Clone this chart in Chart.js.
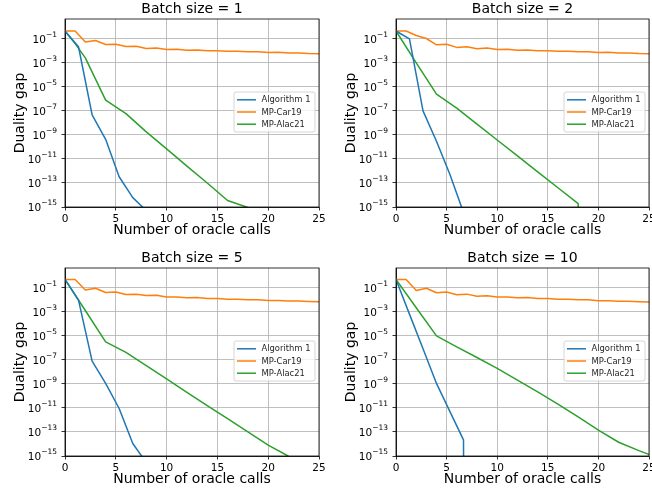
<!DOCTYPE html>
<html>
<head>
<meta charset="utf-8">
<script src="https://cdn.jsdelivr.net/npm/chart.js@4/dist/chart.umd.min.js"></script>
<style>
html, body { margin: 0; padding: 0; background: #fff; }
#wrap { position: relative; width: 652px; height: 494px; overflow: hidden; }
canvas { position: absolute; }
</style>
</head>
<body>
<div id="wrap">
  <canvas id="c1" width="326" height="247" style="left:0;top:0"></canvas>
  <canvas id="c2" width="326" height="247" style="left:326px;top:0"></canvas>
  <canvas id="c3" width="326" height="247" style="left:0;top:247px"></canvas>
  <canvas id="c4" width="326" height="247" style="left:326px;top:247px"></canvas>
</div>
<script>
// labels
var seriesNames = ['Algorithm 1', 'MP-Car19', 'MP-Alac21'];
var seriesColors = ['#1f77b4', '#ff7f0e', '#2ca02c'];
var batchTitles = ['Batch size = 1', 'Batch size = 2', 'Batch size = 5', 'Batch size = 10'];
var xLabel = 'Number of oracle calls';
var yLabel = 'Duality gap';
var xTicks = [0, 5, 10, 15, 20, 25];
var yTicks = [1e-1, 1e-3, 1e-5, 1e-7, 1e-9, 1e-11, 1e-13, 1e-15];
var yTickBase = '10';
var yTickExps = ['−1', '−3', '−5', '−7', '−9', '−11', '−13', '−15'];

// x positions
var algX = [0, 1.33, 2.67, 4, 5.33, 6.67, 8];
var carX = [0, 1, 2, 3, 4, 5, 6, 7, 8, 9, 10, 11, 12, 13, 14, 15, 16, 17, 18, 19, 20, 21, 22, 23, 24, 25];
var alacX = [0, 2, 4, 6, 8, 10, 12, 14, 16, 18, 20, 22, 24, 26];
var alacX1 = [0, 1, 2, 4, 6, 8, 10, 12, 14, 16, 18];

// batch size = 1
var alg1 = [0.45, 0.022, 4.6e-8, 4.3e-10, 3.3e-13, 6e-15, 5e-16];
var car1 = [0.45, 0.45, 0.055, 0.072, 0.034, 0.036, 0.023, 0.024, 0.016, 0.017, 0.013, 0.0135, 0.0115, 0.012, 0.0102, 0.0104, 0.0093, 0.0094, 0.0083, 0.0084, 0.0074, 0.0075, 0.0067, 0.0066, 0.006, 0.0057];
var alac1 = [0.45, 0.04, 2.6e-3, 8e-7, 6e-8, 1.8e-9, 7e-11, 2.5e-12, 1e-13, 3.5e-15, 9e-16];

// batch size = 2
var alg2 = [0.45, 0.1, 1e-7, 3e-10, 5e-13, 3.5e-16];
var car2 = [0.45, 0.45, 0.19, 0.107, 0.032, 0.036, 0.0195, 0.022, 0.015, 0.017, 0.013, 0.0135, 0.0115, 0.012, 0.0102, 0.0104, 0.0093, 0.0094, 0.0083, 0.0084, 0.0074, 0.0075, 0.0067, 0.0066, 0.006, 0.0057];
var alac2 = [0.45, 1e-3, 2.5e-6, 1.7e-7, 8e-9, 3.8e-10, 1.8e-11, 8.3e-13, 4e-14, 1.9e-15, 1e-300];

// batch size = 5
var alg5 = [0.5, 9.5e-3, 8e-8, 1.1e-9, 9e-12, 1.1e-14, 2.8e-16];
var car5 = [0.5, 0.5, 0.067, 0.093, 0.041, 0.046, 0.028, 0.03, 0.023, 0.024, 0.017, 0.0175, 0.015, 0.0155, 0.013, 0.013, 0.0115, 0.0115, 0.0102, 0.0102, 0.009, 0.009, 0.008, 0.008, 0.0073, 0.0069];
var alac5 = [0.5, 1.3e-3, 3.2e-6, 4.2e-7, 3.3e-8, 2.6e-9, 2e-10, 1.6e-11, 1.3e-12, 1e-13, 8e-15, 9.5e-16];

// batch size = 10
var alg10 = [0.5, 6.5e-4, 8.5e-7, 1.1e-9, 5e-12, 2.2e-14, 1e-300];
var car10 = [0.5, 0.5, 0.06, 0.093, 0.039, 0.046, 0.027, 0.03, 0.02, 0.022, 0.017, 0.0175, 0.015, 0.0155, 0.013, 0.013, 0.0115, 0.0115, 0.0101, 0.01, 0.0086, 0.0086, 0.0077, 0.0076, 0.0069, 0.0065];
var alac10 = [0.5, 2.2e-3, 1e-5, 1.2e-6, 1.6e-7, 2e-8, 2.1e-9, 2.2e-10, 2.1e-11, 1.8e-12, 1.45e-13, 1.4e-14, 2.8e-15, 6.3e-16];

var FONT = '"DejaVu Sans", sans-serif';

function pts(xs, ys) {
  return ys.map(function (y, i) { return { x: xs[i], y: y }; });
}

// spines, title, axis labels, y tick labels and the legend box
var decor = {
  id: 'decor',
  afterDraw: function (chart, args, o) {
    var ctx = chart.ctx, a = chart.chartArea, ys = chart.scales.y;
    var cx = (a.left + a.right) / 2, cy = (a.top + a.bottom) / 2;
    ctx.save();
    ctx.strokeStyle = '#000';
    ctx.lineWidth = 0.8;
    ctx.strokeRect(a.left, a.top, a.right - a.left, a.bottom - a.top);

    ctx.fillStyle = '#000';
    ctx.textAlign = 'center';
    ctx.textBaseline = 'middle';
    ctx.font = '14px ' + FONT;
    ctx.fillText(o.title, cx, a.top - 9.5);
    ctx.fillText(xLabel, cx, a.bottom + 23);
    ctx.save();
    ctx.translate(a.left - 45, cy);
    ctx.rotate(-Math.PI / 2);
    ctx.fillText(yLabel, 0, 0);
    ctx.restore();

    // y tick labels as 10 with a raised exponent
    yTicks.forEach(function (v, i) {
      var py = ys.getPixelForValue(v);
      var right = a.left - 8;
      ctx.font = '7.5px ' + FONT;
      var ew = ctx.measureText(yTickExps[i]).width;
      ctx.textAlign = 'left';
      ctx.fillText(yTickExps[i], right - ew, py - 3.5);
      ctx.font = '10.5px ' + FONT;
      ctx.textAlign = 'right';
      ctx.fillText(yTickBase, right - ew, py + 1);
    });

    // legend
    var bw = 81, bh = 40;
    var bx = a.right - 4 - bw, by = cy - 1 - bh / 2;
    ctx.beginPath();
    ctx.roundRect(bx, by, bw, bh, 2);
    ctx.fillStyle = 'rgba(255,255,255,0.8)';
    ctx.fill();
    ctx.strokeStyle = '#cccccc';
    ctx.lineWidth = 0.8;
    ctx.stroke();
    ctx.font = '8.4px ' + FONT;
    ctx.textAlign = 'left';
    chart.data.datasets.forEach(function (ds, i) {
      var ry = by + bh / 2 + (i - 1) * 12.2;
      ctx.strokeStyle = ds.borderColor;
      ctx.lineWidth = 1.5;
      ctx.beginPath();
      ctx.moveTo(bx + 3, ry);
      ctx.lineTo(bx + 22, ry);
      ctx.stroke();
      ctx.fillStyle = '#262626';
      ctx.fillText(ds.label, bx + 27.5, ry + 0.5);
    });
    ctx.restore();
  }
};

function makeChart(id, title, alg, car, ax, alac, box) {
  var W = 326, H = 247;
  var tickFont = { family: FONT, size: 10.5 };
  var grid = { color: '#b0b0b0', lineWidth: 0.8, tickColor: '#000', tickLength: 3.5, tickWidth: 0.8 };
  return new Chart(document.getElementById(id), {
    type: 'line',
    data: {
      datasets: [
        { label: seriesNames[0], data: pts(algX, alg), borderColor: seriesColors[0] },
        { label: seriesNames[1], data: pts(carX, car), borderColor: seriesColors[1] },
        { label: seriesNames[2], data: pts(ax, alac), borderColor: seriesColors[2] }
      ]
    },
    options: {
      responsive: false,
      animation: false,
      layout: { padding: { left: 0, top: box.t, right: W - box.r, bottom: 0 } },
      elements: {
        line: { borderWidth: 1.5, tension: 0, borderJoinStyle: 'round', fill: false },
        point: { radius: 0 }
      },
      plugins: { legend: { display: false }, tooltip: { enabled: false }, decor: { title: title } },
      scales: {
        x: {
          type: 'linear', min: 0, max: 25,
          afterBuildTicks: function (s) { s.ticks = xTicks.map(function (v) { return { value: v }; }); },
          afterFit: function (s) { s.height = H - box.b; s.paddingLeft = 0; s.paddingRight = 0; },
          ticks: { font: tickFont, color: '#000', padding: 2, maxRotation: 0, autoSkip: false },
          grid: grid,
          border: { color: '#000', width: 0.8 }
        },
        y: {
          type: 'logarithmic', min: 1e-15, max: 4.5,
          afterBuildTicks: function (s) { s.ticks = yTicks.map(function (v) { return { value: v }; }); },
          afterFit: function (s) { s.width = box.l; s.paddingTop = 0; s.paddingBottom = 0; },
          ticks: { display: false, autoSkip: false },
          grid: grid,
          border: { color: '#000', width: 0.8 }
        }
      }
    },
    plugins: [decor]
  });
}

makeChart('c1', batchTitles[0], alg1, car1, alacX1, alac1, { l: 65, t: 19, r: 319, b: 207 });
makeChart('c2', batchTitles[1], alg2, car2, alacX, alac2, { l: 70, t: 19, r: 323, b: 207 });
makeChart('c3', batchTitles[2], alg5, car5, alacX, alac5, { l: 65, t: 21, r: 319, b: 209 });
makeChart('c4', batchTitles[3], alg10, car10, alacX, alac10, { l: 70, t: 21, r: 323, b: 209 });
</script>
</body>
</html>
